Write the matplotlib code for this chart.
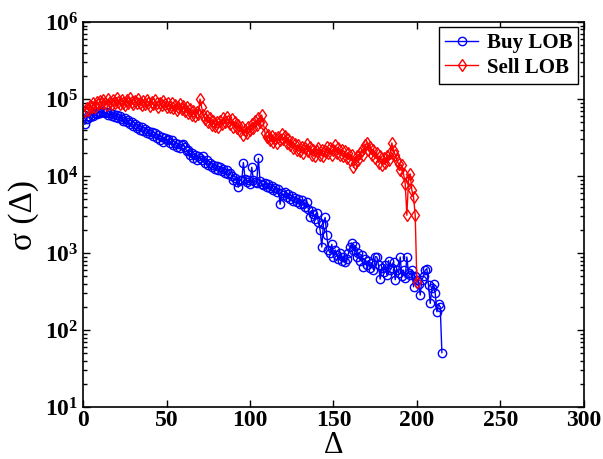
import math
import matplotlib.pyplot as plt
from matplotlib.ticker import LogLocator, FuncFormatter, NullFormatter

plt.rcParams["font.family"] = ["Liberation Serif", "DejaVu Serif"]
plt.rcParams["mathtext.fontset"] = "custom"
plt.rcParams["mathtext.rm"] = "Liberation Serif:bold"
plt.rcParams["mathtext.bf"] = "Liberation Serif:bold"
plt.rcParams["mathtext.it"] = "Liberation Serif:bold:italic"

# sigma(Delta), Delta = 1, 2, 3, ...
buy_lob = [
    47000, 55000, 60000, 58000, 63000, 61000, 66000, 64000, 68000, 66000,
    70000, 67000, 65000, 68000, 63000, 66000, 61000, 64000, 59000, 62000,
    57000, 60000, 55000, 52000, 56000, 50000, 53000, 47000, 50000, 45000,
    48000, 42000, 45000, 40000, 43000, 38000, 41000, 36000, 39000, 35000,
    37000, 33000, 36000, 31000, 34000, 29000, 32000, 28000, 31000, 29000,
    30000, 27000, 29000, 25000, 27000, 24000, 26000, 23000, 25000, 26000,
    24000, 21000, 22000, 19000, 20000, 17000, 19000, 16000, 18000, 17000,
    16000, 18000, 15000, 16000, 14000, 15000, 13000, 14000, 12500, 13500,
    12000, 13000, 11500, 12500, 11000, 12000, 10500, 11000, 10000, 9000,
    9500, 8500, 7200, 9000, 8800, 15000, 9200, 8300, 8900, 8000,
    13000, 9000, 8500, 8200, 17000, 8600, 8000, 7600, 8100, 7300,
    7800, 7000, 7500, 6600, 7100, 6300, 6800, 4300, 6000, 5600,
    6200, 5400, 5900, 5000, 5500, 4800, 5200, 4600, 5000, 4400,
    4900, 4300, 4000, 4600, 3700, 2950, 3500, 3200, 2800, 3300,
    2500, 2000, 1200, 2400, 2900, 1700, 1100, 1000, 1300, 900,
    1100, 950, 850, 1000, 780, 900, 760, 850, 1000, 1200,
    1350, 1100, 1250, 900, 1000, 800, 950, 660, 850, 700,
    800, 650, 750, 600, 900, 890, 700, 460, 650, 560,
    700, 520, 800, 600, 650, 770, 450, 600, 550, 890,
    500, 600, 480, 890, 550, 520, 600, 365, 500, 450,
    400, 285, 450, 500, 600, 630, 380, 222, 350, 400,
    300, 173, 218, 200, 51,
]
sell_lob = [
    70000, 76000, 72000, 82000, 78000, 88000, 80000, 92000, 85000, 95000,
    88000, 98000, 90000, 84000, 100000, 92000, 86000, 96000, 90000, 104000,
    92000, 86000, 98000, 90000, 84000, 96000, 88000, 102000, 92000, 86000,
    95000, 88000, 100000, 90000, 84000, 94000, 87000, 98000, 90000, 82000,
    92000, 85000, 96000, 88000, 80000, 90000, 84000, 95000, 86000, 78000,
    88000, 80000, 90000, 76000, 84000, 72000, 80000, 86000, 74000, 82000,
    70000, 78000, 66000, 74000, 62000, 70000, 60000, 68000, 64000, 100000,
    78000, 62000, 55000, 60000, 50000, 56000, 46000, 52000, 45000, 50000,
    44000, 52000, 47000, 56000, 50000, 59000, 52000, 48000, 55000, 44000,
    50000, 42000, 46000, 38000, 44000, 34000, 40000, 36000, 44000, 40000,
    48000, 42000, 52000, 46000, 56000, 50000, 62000, 48000, 36000, 32000,
    34000, 29000, 33000, 28000, 31000, 27000, 32000, 29000, 35000, 30000,
    33000, 27000, 30000, 25000, 28000, 23000, 26000, 22000, 25000, 21000,
    24000, 20000, 23000, 26000, 21000, 24000, 19000, 22000, 18000, 21000,
    23000, 19000, 22000, 18000, 21000, 24000, 20000, 23000, 19000, 22000,
    25000, 20000, 23000, 19000, 22000, 18000, 21000, 17000, 20000, 16000,
    19000, 13000, 15000, 18000, 16000, 20000, 22000, 19000, 25000, 27000,
    22000, 24000, 19000, 22000, 17000, 20000, 15000, 18000, 14000, 17000,
    15000, 18000, 16000, 20000, 27000, 21000, 19000, 16000, 14500, 12000,
    14000, 10700, 8000, 3100, 9000, 10700, 6500, 5400, 3100, 420,
]
delta_buy = list(range(1, len(buy_lob) + 1))
delta_sell = list(range(1, len(sell_lob) + 1))

fig = plt.figure(figsize=(6.03, 4.59), dpi=100)
ax = fig.add_axes([0.138, 0.113, 0.830, 0.839])

ax.plot(delta_buy, buy_lob, "-o", color="blue", mfc="none", ms=6, lw=1,
        mew=1, label="Buy LOB")
ax.plot(delta_sell, sell_lob, "-d", color="red", mfc="none", ms=6, lw=1,
        mew=1, label="Sell LOB")

ax.set_yscale("log")
ax.set_xlim(0, 300)
ax.set_ylim(10, 1e6)
ax.set_xticks([0, 50, 100, 150, 200, 250, 300])
ax.yaxis.set_major_locator(LogLocator(base=10, numticks=10))
ax.yaxis.set_minor_locator(LogLocator(base=10, subs=range(2, 10), numticks=20))
ax.yaxis.set_minor_formatter(NullFormatter())
ax.yaxis.set_major_formatter(
    FuncFormatter(lambda v, p: r"$\mathbf{10^{%d}}$" % round(math.log10(v))))

ax.tick_params(which="both", direction="in", top=True, right=True, width=1)
ax.tick_params(which="major", length=5, labelsize=17)
ax.tick_params(which="minor", length=3)
ax.tick_params(axis="x", pad=2)
for lab in ax.get_xticklabels():
    lab.set_fontweight("bold")
for s in ax.spines.values():
    s.set_linewidth(1.2)

ax.set_xlabel("Δ", fontsize=22, labelpad=0)
ax.set_ylabel("σ (Δ)", fontsize=24, labelpad=4)

leg = ax.legend(loc="upper right", prop={"weight": "bold", "size": 15},
                fancybox=False, edgecolor="black", framealpha=1,
                handlelength=1.6, borderpad=0.3, labelspacing=0.2,
                handletextpad=0.4, borderaxespad=0.25)
leg.get_frame().set_linewidth(1.0)

fig.savefig("out.png", dpi=100)
